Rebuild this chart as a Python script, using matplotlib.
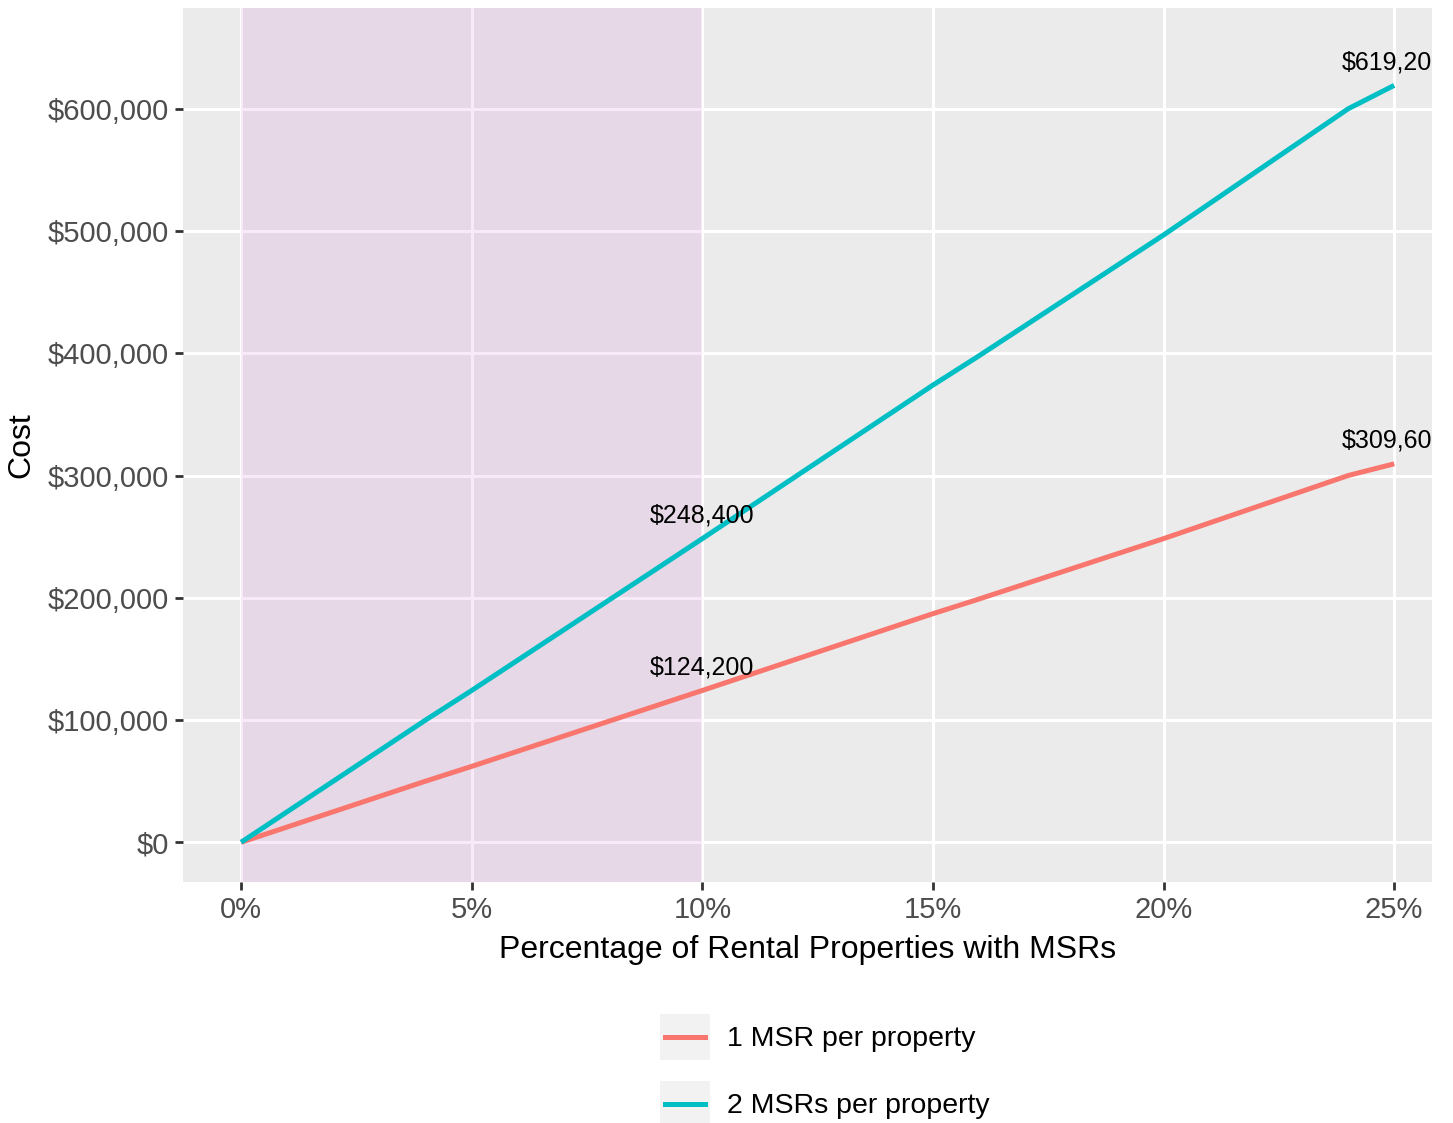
import matplotlib.pyplot as plt
from matplotlib.ticker import FuncFormatter
from matplotlib.patches import Rectangle
from matplotlib.lines import Line2D
from matplotlib.legend_handler import HandlerBase

plt.rcParams['font.family'] = ['Liberation Sans', 'DejaVu Sans']

# percentage of rental properties with MSRs
pct = [0, 4, 5, 10, 15, 16, 20, 24, 25]
cost_1msr = [0, 50000, 62100, 124200, 187000, 199000, 248400, 300000, 309600]
cost_2msr = [0, 100000, 124200, 248400, 374000, 398000, 496800, 600000, 619200]
series_names = ['1 MSR per property', '2 MSRs per property']
label_pct = [10, 25]

red = '#F8766D'
teal = '#00BFC4'


class KeyHandler(HandlerBase):
    # grey key box with a centred line, like ggplot legends
    def create_artists(self, legend, orig_handle, xdescent, ydescent, width, height,
                       fontsize, trans):
        x0, y0 = -xdescent, -ydescent
        rect = Rectangle((x0, y0), width, height, facecolor='#F2F2F2',
                         edgecolor='none', transform=trans)
        ym = y0 + height / 2
        ln = Line2D([x0 + 0.1 * width, x0 + 0.9 * width], [ym, ym],
                    color=orig_handle.get_color(), linewidth=3.6, transform=trans)
        return [rect, ln]


fig = plt.figure(figsize=(14.53, 11.23), dpi=100)
ax = fig.add_axes([183 / 1453, 1 - 882 / 1123, (1432 - 183) / 1453, (882 - 8) / 1123])
ax.set_facecolor('#EBEBEB')
for s in ax.spines.values():
    s.set_visible(False)

ax.grid(True, color='white', linewidth=2.2, zorder=0)
ax.set_axisbelow(True)

# shaded region 0-10%
ax.axvspan(0, 10, color='#C337C3', alpha=0.1, linewidth=0, zorder=1)

l1, = ax.plot(pct, cost_1msr, color=red, linewidth=3.6, zorder=3, solid_capstyle='butt')
l2, = ax.plot(pct, cost_2msr, color=teal, linewidth=3.6, zorder=3, solid_capstyle='butt')

for p in label_pct:
    i = pct.index(p)
    for vals in (cost_1msr, cost_2msr):
        ax.text(p, vals[i] + 19000, f'${vals[i]:,}', ha='center', va='center',
                fontsize=18, color='black', clip_on=True, zorder=4)

ax.set_xlim(-1.26, 25.82)
ax.set_ylim(-32500, 682500)
ax.set_xticks([0, 5, 10, 15, 20, 25])
ax.set_yticks(range(0, 600001, 100000))
ax.xaxis.set_major_formatter(FuncFormatter(lambda v, _: f'{v:.0f}%'))
ax.yaxis.set_major_formatter(FuncFormatter(lambda v, _: f'${v:,.0f}'))
ax.tick_params(axis='both', colors='#333333', length=6, width=2, labelsize=21,
               labelcolor='#4D4D4D', pad=4)

ax.set_xlabel('Percentage of Rental Properties with MSRs', fontsize=23, labelpad=8)
ax.set_ylabel('Cost', fontsize=23, labelpad=8)

fig.legend([l1, l2], series_names, handler_map={Line2D: KeyHandler()},
           loc='upper left', bbox_to_anchor=(660 / 1453, 1 - 1014 / 1123),
           frameon=False, fontsize=20.5, handlelength=1.75, handleheight=2.1,
           labelspacing=0.76, handletextpad=0.6, borderpad=0, borderaxespad=0)

plt.savefig('out.png', dpi=100)
